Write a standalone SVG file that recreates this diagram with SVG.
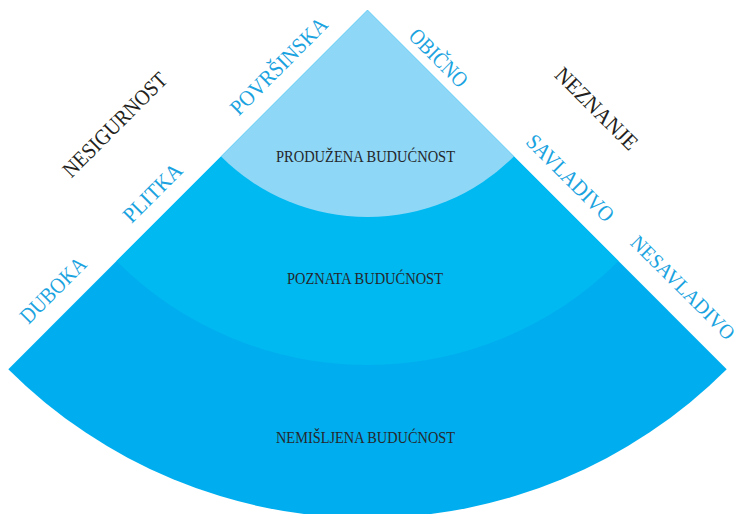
<svg xmlns="http://www.w3.org/2000/svg" width="744" height="514" viewBox="0 0 744 514">
  <style>
    .lbl { font-family: "Liberation Serif", "DejaVu Serif", serif; text-anchor: middle; }
    .side { font-size: 22px; fill: #1aa3e0; }
    .dim { font-size: 22px; fill: #231f20; }
    .zone { font-size: 17.5px; fill: #25282c; }
  </style>
  <rect width="744" height="514" fill="#ffffff"/>
  <g id="zone-nemisljena">
    <path d="M367.5,10 L8.3,369.2 A508,508 0 0 0 726.7,369.2 Z" fill="#00aeef"/>
    <text class="lbl zone" x="365.5" y="443" textLength="179" lengthAdjust="spacingAndGlyphs">NEMIŠLJENA BUDUĆNOST</text>
  </g>
  <g id="zone-poznata">
    <path d="M367.5,10 L116.5,261 A355,355 0 0 0 618.5,261 Z" fill="#00b9f1"/>
    <text class="lbl zone" x="365" y="283.5" textLength="156" lengthAdjust="spacingAndGlyphs">POZNATA BUDUĆNOST</text>
  </g>
  <g id="zone-produzena">
    <path d="M367.5,10 L221.1,156.4 A207,207 0 0 0 513.9,156.4 Z" fill="#8fd7f6"/>
    <text class="lbl zone" x="365.5" y="161.5" textLength="179" lengthAdjust="spacingAndGlyphs">PRODUŽENA BUDUĆNOST</text>
  </g>
  <g id="axis-left">
    <text class="lbl dim" transform="translate(115,125) rotate(-45)" y="7" textLength="138" lengthAdjust="spacingAndGlyphs">NESIGURNOST</text>
    <text class="lbl side" transform="translate(53.3,290.3) rotate(-45)" y="7" textLength="84" lengthAdjust="spacingAndGlyphs">DUBOKA</text>
    <text class="lbl side" transform="translate(152.8,193) rotate(-45)" y="7" textLength="74" lengthAdjust="spacingAndGlyphs">PLITKA</text>
    <text class="lbl side" transform="translate(278.3,65.5) rotate(-45)" y="8" textLength="128" lengthAdjust="spacingAndGlyphs">POVRŠINSKA</text>
  </g>
  <g id="axis-right">
    <text class="lbl dim" transform="translate(596.3,108.8) rotate(45)" y="7" textLength="107" lengthAdjust="spacingAndGlyphs">NEZNANJE</text>
    <text class="lbl side" transform="translate(439,57.5) rotate(45)" y="8" textLength="73" lengthAdjust="spacingAndGlyphs">OBIČNO</text>
    <text class="lbl side" transform="translate(570,178.3) rotate(45)" y="7" textLength="114" lengthAdjust="spacingAndGlyphs">SAVLADIVO</text>
    <text class="lbl side" style="font-size:20.5px" transform="translate(683,287.5) rotate(45)" y="7" textLength="138" lengthAdjust="spacingAndGlyphs">NESAVLADIVO</text>
  </g>
</svg>
